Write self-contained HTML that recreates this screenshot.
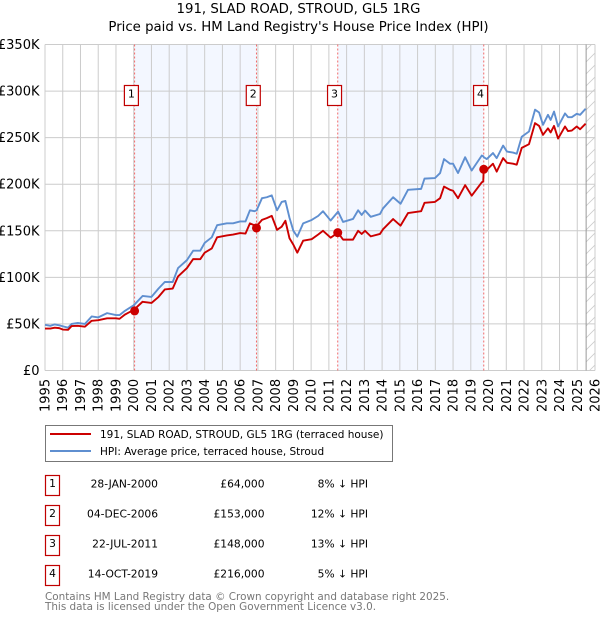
<!DOCTYPE html>
<html>
<head>
<meta charset="utf-8">
<title>191, SLAD ROAD, STROUD, GL5 1RG</title>
<style>
html,body{margin:0;padding:0;background:#fff;}
svg{display:block;font-family:"DejaVu Sans","Liberation Sans",sans-serif;}
text{fill:#000;}
</style>
</head>
<body>
<svg id="chart" xmlns="http://www.w3.org/2000/svg" width="600" height="620" viewBox="0 0 600 620">
  <defs>
    <pattern id="hatch" patternUnits="userSpaceOnUse" width="12" height="12">
      <path d="M-3 3 L3 -3 M0 12 L12 0 M9 15 L15 9" stroke="#ccc" stroke-width="0.8" fill="none"/>
    </pattern>
  </defs>
  <text x="298.5" y="13" font-size="13.3" text-anchor="middle">191, SLAD ROAD, STROUD, GL5 1RG</text>
  <text x="298.5" y="31" font-size="13.3" text-anchor="middle">Price paid vs. HM Land Registry's House Price Index (HPI)</text>
  <g id="plot"></g>

  <g>
    <rect x="45.5" y="425.5" width="347" height="36" fill="#fff" stroke="#777" stroke-width="1"/>
    <line x1="50" y1="434" x2="91" y2="434" stroke="#cc0000" stroke-width="2"/>
    <text x="100" y="438" font-size="10.5">191, SLAD ROAD, STROUD, GL5 1RG (terraced house)</text>
    <line x1="50" y1="451" x2="91" y2="451" stroke="#5f8fd0" stroke-width="2"/>
    <text x="100" y="455" font-size="10.5">HPI: Average price, terraced house, Stroud</text>
  </g>

  <g id="table"></g>

  <text x="45" y="600" font-size="10.4" style="fill:#777">Contains HM Land Registry data © Crown copyright and database right 2025.</text>
  <text x="45" y="610" font-size="10.4" style="fill:#777">This data is licensed under the Open Government Licence v3.0.</text>
</svg>
<script>
const yearTicks = [1995,1996,1997,1998,1999,2000,2001,2002,2003,2004,2005,2006,2007,2008,2009,2010,2011,2012,2013,2014,2015,2016,2017,2018,2019,2020,2021,2022,2023,2024,2025,2026];
const priceTicks = [0,50,100,150,200,250,300,350];
const priceLabels = ['£0','£50K','£100K','£150K','£200K','£250K','£300K','£350K'];
const dates = [1995.0,1995.3,1995.55,1995.8,1996.0,1996.3,1996.5,1996.85,1997.25,1997.63,1998.0,1998.5,1999.0,1999.2,1999.5,2000.0,2000.5,2001.0,2001.4,2001.75,2002.2,2002.5,2003.0,2003.35,2003.75,2004.0,2004.4,2004.7,2005.25,2005.6,2006.0,2006.3,2006.55,2006.8,2006.93,2007.23,2007.5,2007.78,2008.08,2008.34,2008.55,2008.78,2009.0,2009.22,2009.55,2010.03,2010.4,2010.67,2011.1,2011.52,2011.8,2012.36,2012.65,2012.85,2013.04,2013.36,2013.88,2014.05,2014.62,2015.04,2015.46,2016.2,2016.39,2016.98,2017.27,2017.49,2017.83,2018.0,2018.28,2018.68,2019.05,2019.62,2019.7,2019.73,2019.9,2020.25,2020.46,2020.82,2021.04,2021.38,2021.59,2021.87,2022.28,2022.62,2022.85,2023.07,2023.35,2023.5,2023.69,2023.92,2024.31,2024.48,2024.69,2024.97,2025.16,2025.47];
const hpiValues = [49,48,49.5,48.5,47.5,46,50,51,50,58,57,61.6,59.5,59.5,64,70,80,79,88,95,95,110,118.5,128.6,128.6,137,143,156,158,158,160,160,172,171,172,185,186,188,172,181,182,164,150,143.7,158,161.6,166,171,161,170.6,159.5,162.7,172,167,171.7,165,168,174,186,179,194,195,206,206.6,212,227,222,222,212,229,214.7,230.8,230,229,227,233.5,228,241.5,235,234,232.7,251,256.6,280,277,263.8,274.5,269,278,262,276,272,272,275.6,274.5,281];
const paidValues = [45,45,46,45.5,44,43.7,47.7,48,47,53.4,54,56,56,55.5,60,65,73.8,72.5,79,87,88,101,110,119.6,119.5,126.5,131,143,145,146,147.5,147,158,156,155,161.7,163.6,166,151,154.4,160.8,142,135,126.5,139.4,141,146,150,142.6,148,140.5,140.5,150,146.6,150,144,146.6,151.6,162.6,155.5,169,171,180,181,185,197.5,194,193,185,199,187.7,202,203,216,215.5,222,213.5,228,223,222,221,239,243,265.6,262.6,253,260,255.6,262.6,249,262,257,257.6,262,259,265];
const saleNumbers = ['1','2','3','4'];
const saleDates = [2000.05,2006.92,2011.5,2019.73];
const salePrices = [64,153,148,216];
const saleDateLabels = ['28-JAN-2000','04-DEC-2006','22-JUL-2011','14-OCT-2019'];
const salePriceLabels = ['£64,000','£153,000','£148,000','£216,000'];
const saleHpiLabels = ['8% ↓ HPI','12% ↓ HPI','13% ↓ HPI','5% ↓ HPI'];
const dataEndYear = 2025.5;

const NS = 'http://www.w3.org/2000/svg';
const plot = document.getElementById('plot');
const table = document.getElementById('table');
const left = 45, right = 595, top_ = 44.5, bottom = 370.5;
const xScale = y => left + (y - 1995) * (right - left) / 31;
const yScale = v => bottom - v * (bottom - top_) / 350;
function make(parent, tag, attrs, txt) {
  const el = document.createElementNS(NS, tag);
  for (const k in attrs) el.setAttribute(k, attrs[k]);
  if (txt !== undefined) el.textContent = txt;
  parent.appendChild(el);
  return el;
}
let el;

// shaded sale spans
for (let i = 0; i + 1 < saleDates.length; i += 2) {
  el = make(plot, 'rect', {x: xScale(saleDates[i]), y: top_, width: xScale(saleDates[i + 1]) - xScale(saleDates[i]), height: bottom - top_, fill: '#f3f7ff'});
  
  
}

// hatched region after last data
el = make(plot, 'rect', {x: xScale(dataEndYear), y: top_, width: right - xScale(dataEndYear), height: bottom - top_, fill: 'url(#hatch)'});



// grid and ticks
yearTicks.forEach(y => {
  const x = xScale(y);
  el = make(plot, 'line', {x1: x, x2: x, y1: top_, y2: bottom, stroke: '#ccc', 'stroke-width': 1});
  
  
  el = make(plot, 'text', {transform: 'translate(' + (x + 4.5) + ',412) rotate(-90)', 'font-size': 13}, String(y));
  
  
});
priceTicks.forEach((v, i) => {
  const y = yScale(v);
  el = make(plot, 'line', {x1: left, x2: right, y1: y, y2: y, stroke: '#ccc', 'stroke-width': 1});
  
  
  el = make(plot, 'text', {x: 39.5, y: y + 4.5, 'font-size': 13, 'text-anchor': 'end'}, priceLabels[i]);
  
  
});

// data end marker
el = make(plot, 'line', {x1: xScale(dataEndYear), x2: xScale(dataEndYear), y1: top_, y2: bottom, stroke: '#999', 'stroke-width': 1});



// sale vertical lines
saleDates.forEach(d => {
  el = make(plot, 'line', {x1: xScale(d), x2: xScale(d), y1: top_, y2: bottom, stroke: '#f06a6a', 'stroke-width': 1, 'stroke-dasharray': '2 2'});
  
  
});

// series
const toPoints = vals => vals.map((v, i) => xScale(dates[i]).toFixed(2) + ',' + yScale(v).toFixed(2)).join(' ');
el = make(plot, 'polyline', {points: toPoints(hpiValues), fill: 'none', stroke: '#5f8fd0', 'stroke-width': 1.9, 'stroke-linejoin': 'round'});


el = make(plot, 'polyline', {points: toPoints(paidValues), fill: 'none', stroke: '#cc0000', 'stroke-width': 1.9, 'stroke-linejoin': 'round'});



// sale markers and number boxes
saleDates.forEach((d, i) => {
  const cx = xScale(d);
  el = make(plot, 'circle', {cx: cx, cy: yScale(salePrices[i]), r: 4.5, fill: '#cc0000'});
  
  
  el = make(plot, 'rect', {x: cx - 10.2, y: 85.5, width: 14, height: 20, fill: '#fff', stroke: '#c00000', 'stroke-width': 1.2});
  
  
  el = make(plot, 'text', {x: cx - 3.2, y: 97.5, 'font-size': 11, 'text-anchor': 'middle'}, saleNumbers[i]);
  
  
});

// table rows
saleNumbers.forEach((n, i) => {
  const rowTop = 475.5 + i * 30;
  el = make(table, 'rect', {x: 45.5, y: rowTop, width: 14, height: 20, fill: '#fff', stroke: '#c00000', 'stroke-width': 1.2});
  
  
  el = make(table, 'text', {x: 52.5, y: rowTop + 11.5, 'font-size': 10.7, 'text-anchor': 'middle'}, n);
  
  
  el = make(table, 'text', {x: 158, y: rowTop + 12, 'font-size': 10.7, 'text-anchor': 'end'}, saleDateLabels[i]);
  
  
  el = make(table, 'text', {x: 264.5, y: rowTop + 12, 'font-size': 10.7, 'text-anchor': 'end'}, salePriceLabels[i]);
  
  
  el = make(table, 'text', {x: 368, y: rowTop + 12, 'font-size': 10.7, 'text-anchor': 'end'}, saleHpiLabels[i]);
  
  
});
</script>
</body>
</html>
